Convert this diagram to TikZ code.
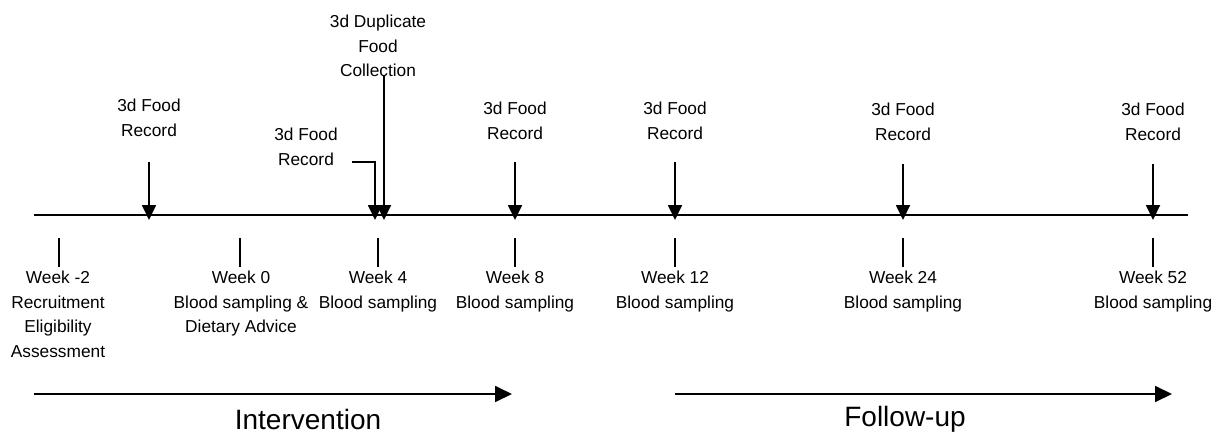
\documentclass[tikz,border=0pt]{standalone}
\usepackage{fontspec}
\setmainfont{Liberation Sans}
\usetikzlibrary{arrows.meta}
\begin{document}
\begin{tikzpicture}[x=1pt,y=-1pt,
  lbl/.style={font=\fontsize{17.3}{24.5}\selectfont, align=center, inner sep=0pt},
  big/.style={font=\fontsize{28}{32}\selectfont, inner sep=0pt},
  ln/.style={line width=1.8pt},
  tickmark/.style={line width=1.3pt},
  arr/.style={line width=1.8pt, -{Triangle[width=14pt,length=15pt]}},
  barr/.style={line width=1.8pt, -{Triangle[width=16pt,length=17pt]}}]
\useasboundingbox (0,0) rectangle (1214,434);

% main timeline
\coordinate (L) at (34,215);
\coordinate (R) at (1188,215);
\draw[ln] (L) -- (R);

% top labels and arrows
\node[lbl] (f1) at (149,118) {3d Food\\Record};
\node[lbl] (f3) at (515,121) {3d Food\\Record};
\node[lbl] (f4) at (675,121) {3d Food\\Record};
\node[lbl] (f5) at (903,122) {3d Food\\Record};
\node[lbl] (f6) at (1153,122) {3d Food\\Record};
\node[lbl] (f2) at (306,147) {3d Food\\Record};
\node[lbl] (dup) at (378,46) {3d Duplicate\\Food\\Collection};

\coordinate (s1) at (149,162); \coordinate (e1) at (149,220);
\coordinate (s3) at (515,162); \coordinate (e3) at (515,220);
\coordinate (s4) at (675,162); \coordinate (e4) at (675,220);
\coordinate (s5) at (903,164); \coordinate (e5) at (903,220);
\coordinate (s6) at (1153,164); \coordinate (e6) at (1153,220);
\coordinate (s2) at (352,162); \coordinate (e2) at (375,220);
\coordinate (sd) at (384,76); \coordinate (ed) at (384,220);

\draw[arr] (s1) -- (e1);
\draw[arr] (s3) -- (e3);
\draw[arr] (s4) -- (e4);
\draw[arr] (s5) -- (e5);
\draw[arr] (s6) -- (e6);
\draw[arr] (s2) -| (e2);
\draw[arr] (sd) -- (ed);

% ticks and week labels
\foreach \x/\n in {59/a,240/b,378/c,515/d,675/e,903/f,1153/g}{
  \coordinate (k\n1) at (\x,238);
  \coordinate (k\n2) at (\x,267);
  \draw[tickmark] (k\n1) -- (k\n2);
}
\node[lbl,anchor=north] (w1) at (58,271) {Week -2\\Recruitment\\Eligibility\\Assessment};
\node[lbl,anchor=north] (w2) at (241,271) {Week 0\\Blood sampling \&\\Dietary Advice};
\node[lbl,anchor=north] (w3) at (378,271) {Week 4\\Blood sampling};
\node[lbl,anchor=north] (w4) at (515,271) {Week 8\\Blood sampling};
\node[lbl,anchor=north] (w5) at (675,271) {Week 12\\Blood sampling};
\node[lbl,anchor=north] (w6) at (903,271) {Week 24\\Blood sampling};
\node[lbl,anchor=north] (w7) at (1153,271) {Week 52\\Blood sampling};

% phase arrows
\coordinate (i1) at (34,394); \coordinate (i2) at (512,394);
\coordinate (p1) at (675,394); \coordinate (p2) at (1172,394);
\draw[barr] (i1) -- (i2);
\draw[barr] (p1) -- (p2);
\node[big] (int) at (308,419) {Intervention};
\node[big] (fol) at (905,419) {Follow-up};
\end{tikzpicture}
\end{document}
